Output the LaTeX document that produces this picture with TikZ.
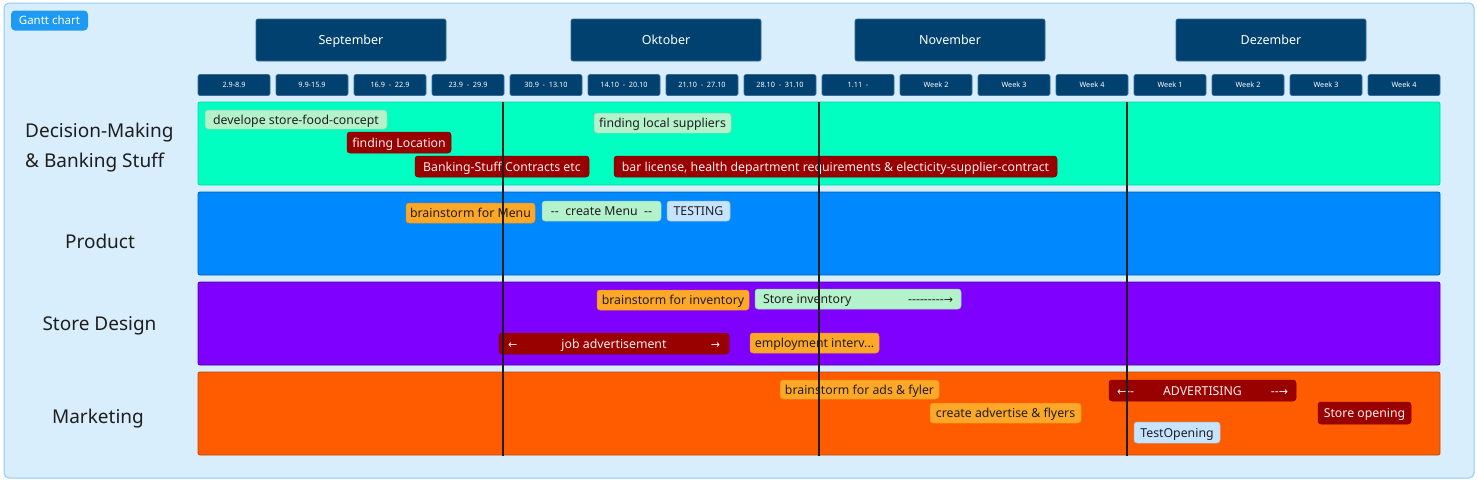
\documentclass[tikz,border=0pt]{standalone}
\usepackage{fontspec}
\newfontfamily\uifont{Noto Sans}
\newfontfamily\arrowfont{DejaVu Sans}
\definecolor{framebg}{HTML}{D9EEFD}
\definecolor{frameline}{HTML}{8ECBFA}
\definecolor{tagblue}{HTML}{1E9AF3}
\definecolor{navy}{HTML}{01416F}
\definecolor{navyline}{HTML}{3A6A95}
\definecolor{bandgreen}{HTML}{00FFC0}
\definecolor{bandblue}{HTML}{0088FF}
\definecolor{bandpurple}{HTML}{8000FF}
\definecolor{bandorange}{HTML}{FF5C00}
\definecolor{chipred}{HTML}{990000}
\definecolor{chipgreen}{HTML}{B3F2CA}
\definecolor{chiporange}{HTML}{FFA726}
\definecolor{chipblue}{HTML}{C7E4FF}
\definecolor{inkdark}{HTML}{1E1E1E}
\tikzset{
  monthbox/.style={fill=navy, draw=navyline, line width=0.6pt, rounded corners=2pt,
    minimum width=190pt, minimum height=42pt, inner sep=0pt, text=white,
    text height=8.9pt, text depth=0pt,
    font=\uifont\fontsize{12.5}{14}\selectfont},
  weekbox/.style={fill=navy, draw=navyline, line width=0.6pt, rounded corners=2pt,
    minimum width=72pt, minimum height=21pt, inner sep=0pt, text=white,
    text height=5.2pt, text depth=0pt,
    font=\uifont\fontsize{7.3}{8}\selectfont},
  band/.style={rounded corners=2pt, line width=0.8pt},
  chip/.style={rounded corners=3pt, inner sep=0pt, line width=0.5pt,
    text height=9.3pt, text depth=0pt,
    font=\uifont\fontsize{12.3}{14}\selectfont},
  redchip/.style={chip, fill=chipred, draw=chipred!85!black, text=white!94!red},
  greenchip/.style={chip, fill=chipgreen, draw=chipgreen!85!black, text=inkdark},
  orangechip/.style={chip, fill=chiporange, draw=chiporange!88!black, text=inkdark},
  bluechip/.style={chip, fill=chipblue, draw=chipblue!85!black, text=inkdark},
  rowlabel/.style={anchor=base, inner sep=0pt, text=inkdark, font=\uifont\fontsize{19}{22}\selectfont},
  weekline/.style={line width=2pt, draw=inkdark},
}
\begin{document}
\begin{tikzpicture}[x=1pt,y=-1pt]
\useasboundingbox (0,0) rectangle (1477,480);
% frame
\draw[fill=framebg, draw=frameline, line width=1pt, rounded corners=5pt] (4,3) rectangle (1474,478);
\node[fill=tagblue, rounded corners=4pt, minimum width=77pt, minimum height=20pt, inner sep=0pt,
  text height=8.2pt, text depth=0pt,
  text=white, font=\uifont\fontsize{11.5}{13}\selectfont] (tag) at (49.5,20.5) {Gantt chart};
% months
\node[monthbox] (sep) at (351,40) {September};
\node[monthbox] (okt) at (666,40) {Oktober};
\node[monthbox] (nov) at (950,40) {November};
\node[monthbox] (dez) at (1271,40) {Dezember};
% weeks
\foreach \i/\t in {0/2.9-8.9, 1/9.9-15.9, 2/16.9\ \ -\ \ 22.9, 3/23.9\ \ -\ \ 29.9,
  4/30.9\ \ -\ \ 13.10, 5/14.10\ \ -\ \ 20.10, 6/21.10\ \ -\ \ 27.10, 7/28.10\ \ -\ \ 31.10,
  8/1.11\ \ -, 9/Week 2, 10/Week 3, 11/Week 4, 12/Week 1, 13/Week 2, 14/Week 3, 15/Week 4}
  \node[weekbox] (w\i) at ({234+78*\i},85) {\t};
% bands
\draw[band, fill=bandgreen, draw=bandgreen!85!black] (198,102) rectangle (1440,185);
\draw[band, fill=bandblue, draw=bandblue!70!black] (198,192) rectangle (1440,275);
\draw[band, fill=bandpurple, draw=bandpurple!60!black] (198,282) rectangle (1440,365);
\draw[band, fill=bandorange, draw=bandorange!75!black] (198,372) rectangle (1440,455);
% row labels
\node[rowlabel, anchor=base west] (l1a) at (25,137) {Decision-Making};
\node[rowlabel, anchor=base west] (l1b) at (25,167) {\& Banking Stuff};
\node[rowlabel] (l2) at (100,248) {Product};
\node[rowlabel] (l3) at (99.5,330) {Store Design};
\node[rowlabel] (l4) at (98,423) {Marketing};
% row 1 chips
\node[greenchip, minimum width=182pt, minimum height=19pt] (c1) at (296,119.5) {develope store-food-concept};
\node[redchip, minimum width=104pt, minimum height=21pt] (c2) at (399,142.5) {finding Location};
\node[redchip, minimum width=174pt, minimum height=21pt] (c3) at (502,166.5) {Banking-Stuff Contracts etc};
\node[greenchip, minimum width=137pt, minimum height=20pt] (c4) at (662.5,123) {finding local suppliers};
\node[redchip, minimum width=443pt, minimum height=21pt] (c5) at (835.5,166.5) {bar license, health department requirements \& electicity-supplier-contract};
% row 2 chips
\node[orangechip, minimum width=129pt, minimum height=20pt] (c6) at (470.5,213) {brainstorm for Menu};
\node[greenchip, minimum width=119pt, minimum height=20pt] (c7) at (601.5,211) {--\ \ create Menu\ \ --};
\node[bluechip, minimum width=63pt, minimum height=20pt] (c8) at (698.5,211) {TESTING};
% row 3 chips
\node[orangechip, minimum width=152pt, minimum height=20pt] (c9) at (673,300) {brainstorm for inventory};
\node[greenchip, minimum width=206pt, minimum height=20pt] (c10) at (858,299)
  {\hbox to 190pt{Store inventory\hfill ---------{\arrowfont\fontsize{11}{12}\selectfont →}}};
\node[redchip, minimum width=230pt, minimum height=21pt] (c11) at (614,343.5)
  {\hbox to 212pt{{\arrowfont\fontsize{11}{12}\selectfont ←}\hfill job advertisement\hfill{\arrowfont\fontsize{11}{12}\selectfont →}}};
\node[orangechip, minimum width=129pt, minimum height=20pt] (c12) at (814.5,343) {employment interv...};
% row 4 chips
\node[orangechip, minimum width=159pt, minimum height=19pt] (c13) at (859.5,389.5) {brainstorm for ads \& fyler};
\node[orangechip, minimum width=151pt, minimum height=20pt] (c14) at (1005.5,413) {create advertise \& flyers};
\node[redchip, minimum width=187pt, minimum height=21pt] (c15) at (1202.5,390.5)
  {\hbox to 171pt{{\arrowfont\fontsize{11}{12}\selectfont ←}--\hfill ADVERTISING\hfill --{\arrowfont\fontsize{11}{12}\selectfont →}}};
\node[redchip, minimum width=93pt, minimum height=22pt] (c16) at (1364.5,413) {Store opening};
\node[bluechip, minimum width=86pt, minimum height=21pt] (c17) at (1177,432.5) {TestOpening};
% month divider lines
\coordinate (v1t) at (503,102); \coordinate (v1b) at (503,456);
\coordinate (v2t) at (819,102); \coordinate (v2b) at (819,456);
\coordinate (v3t) at (1127,102); \coordinate (v3b) at (1127,456);
\draw[weekline] (v1t) -- (v1b);
\draw[weekline] (v2t) -- (v2b);
\draw[weekline] (v3t) -- (v3b);
\end{tikzpicture}
\end{document}
